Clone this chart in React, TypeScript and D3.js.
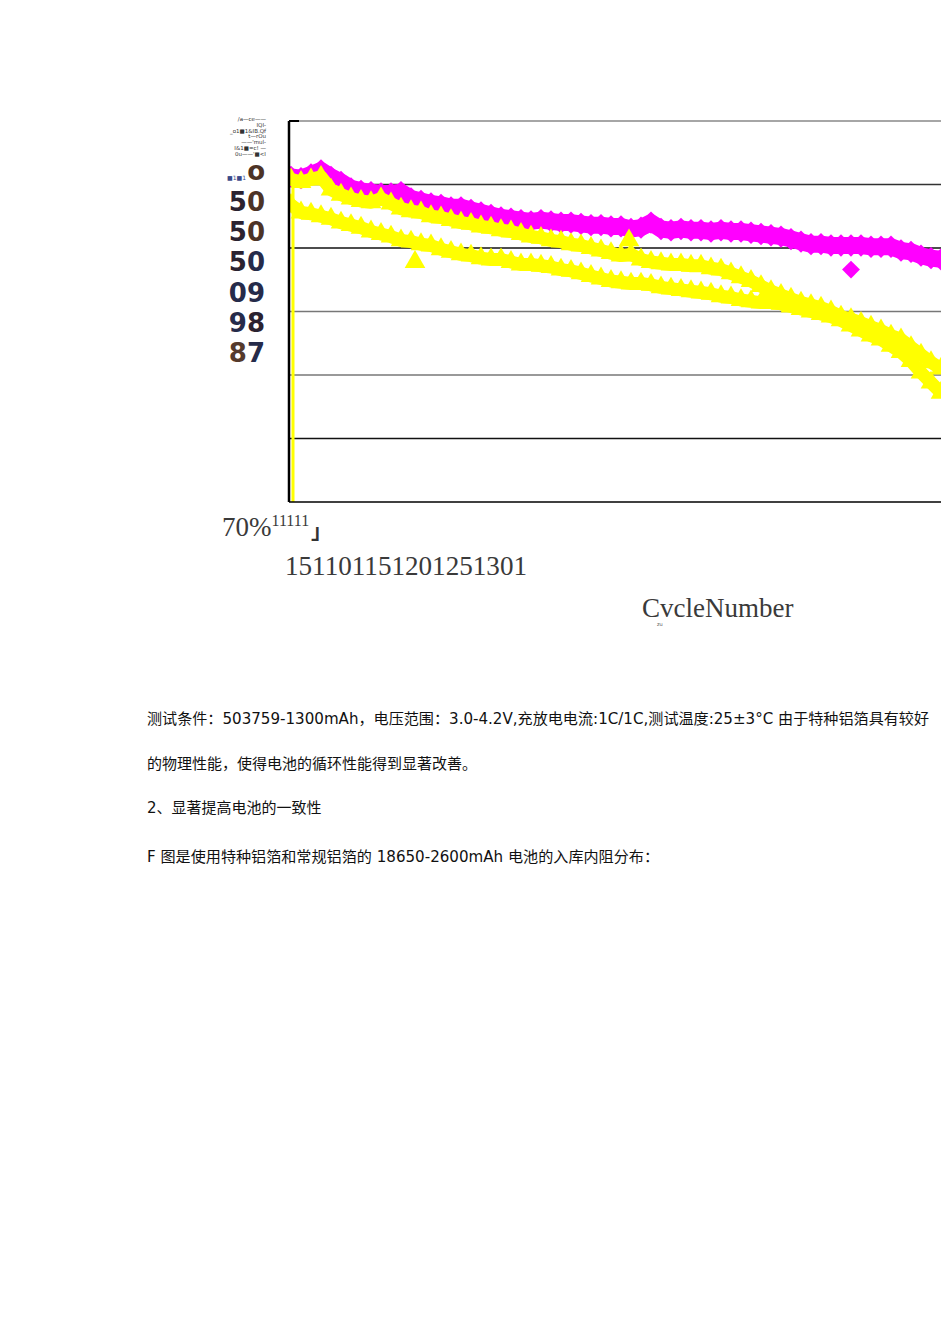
import React, { useEffect, useRef } from 'react'
import * as d3 from 'd3'

// --- DATA ---
const cycles = [
  1, 6, 11, 16, 21, 26, 31, 36, 41, 46, 51, 56, 61, 66, 71, 76, 81, 86, 91, 96,
  101, 106, 111, 116, 121, 126, 131, 136, 141, 146, 151, 156, 161, 166, 171, 176, 181, 186, 191, 196,
  201, 206, 211, 216, 221, 226, 231, 236, 241, 246, 251, 256, 261, 266, 271, 276, 281, 286, 291, 296,
  301, 306, 311, 316, 321, 326,
]

// capacity retention (%), special aluminium foil (magenta diamonds)
const specialFoil = [
  95.6, 95.5, 95.8, 96.1, 95.6, 95.2, 94.7, 94.5, 94.4, 94.3,
  94.3, 94.4, 93.9, 93.7, 93.5, 93.4, 93.2, 93.2, 93.0, 92.8,
  92.6, 92.4, 92.3, 92.2, 92.1, 92.2, 92.1, 92.0, 92.0, 91.9,
  91.8, 91.8, 91.7, 91.7, 91.5, 91.6, 92.0, 91.5, 91.4, 91.5,
  91.4, 91.4, 91.3, 91.4, 91.3, 91.3, 91.2, 91.1, 91.0, 90.9,
  90.7, 90.5, 90.3, 90.3, 90.2, 90.2, 90.2, 90.2, 90.1, 90.1,
  90.1, 89.8, 89.7, 89.4, 89.2, 89.1,
]

// conventional foil, cell A (yellow triangles, upper band)
const normalFoilA = [
  95.4, 95.2, 95.4, 95.6, 94.6, 94.2, 93.9, 93.7, 93.6, 93.9,
  93.5, 93.1, 92.9, 92.8, 92.5, 92.4, 92.2, 92.0, 91.9, 91.7,
  91.6, 91.4, 91.3, 91.1, 90.9, 90.8, 90.6, 90.5, 90.3, 90.2,
  90.0, 89.8, 89.6, 89.4, 89.5, 89.1, 88.9, 88.8, 88.7, 88.7,
  88.6, 88.6, 88.4, 88.3, 88.0, 87.7, 87.4, 87.0, 86.6, 86.3,
  86.0, 85.7, 85.5, 85.3, 85.0, 84.6, 84.4, 84.1, 83.8, 83.5,
  83.1, 82.8, 82.2, 81.6, 81.0, 80.5,
]

// conventional foil, cell B (yellow triangles, lower band)
const normalFoilB = [
  93.4, 92.8, 92.7, 92.5, 92.3, 92.0, 91.8, 91.6, 91.3, 91.1,
  90.9, 90.6, 90.5, 90.3, 90.2, 89.9, 89.7, 89.5, 89.4, 89.2,
  89.1, 89.1, 88.9, 88.7, 88.7, 88.6, 88.5, 88.3, 88.2, 88.0,
  87.8, 87.6, 87.4, 87.3, 87.2, 87.2, 87.1, 86.9, 86.8, 86.7,
  86.6, 86.5, 86.4, 86.2, 86.1, 85.9, 85.8, 85.7, 85.7, 85.6,
  85.4, 85.2, 85.0, 84.8, 84.6, 84.3, 83.9, 83.5, 83.1, 82.8,
  82.3, 81.8, 81.1, 80.2, 79.4, 78.6,
]

const specialOutliers = [{ cycle: 281, value: 88.3 }]
const normalOutliers = [{ cycle: 63, value: 88.9 }, { cycle: 170, value: 90.6 }]
const startDrop = [{ cycle: 2, from: 95.0, to: 70 }]

const yGrid = [75, 80, 85, 90, 95]
const yLabelRows = [['5', '0'], ['5', '0'], ['5', '0'], ['0', '9'], ['9', '8'], ['8', '7']]
const garbledLegend = ['/a—ce——', 'IQI-', '_o1■1&IB.Qf', 't—rOu', '——\'mul-', 'I&1■=c! —', '0u——\'■<I']
const bottomLabel = '70%'
const bottomSup = '11111'
const xTickText = '151101151201251301'
const xTitle = 'CvcleNumber'

const paragraphs = [
  '测试条件：503759-1300mAh，电压范围：3.0-4.2V,充放电电流:1C/1C,测试温度:25±3°C 由于特种铝箔具有较好',
  '的物理性能，使得电池的循环性能得到显著改善。',
  '2、显著提高电池的一致性',
  'F 图是使用特种铝箔和常规铝箔的 18650-2600mAh 电池的入库内阻分布：',
]

// split a line into runs of CJK / latin so each gets its own font
const splitRuns = (s: string) => {
  const runs: { cjk: boolean; text: string }[] = []
  for (const ch of s) {
    const cjk = /[\u3000-\u303f\u4e00-\u9fff\uff00-\uffef]/.test(ch)
    const last = runs[runs.length - 1]
    if (last && last.cjk === cjk) last.text += ch
    else runs.push({ cjk, text: ch })
  }
  return runs
}

export default function App() {
  const ref = useRef<SVGSVGElement>(null)

  useEffect(() => {
    if (!ref.current) return
    const svg = d3.select(ref.current)
    svg.selectAll('*').remove()

    const left = 289, right = 941, top = 121, bottom = 502
    const x = d3.scaleLinear().domain([0, 326]).range([left, right])
    const y = d3.scaleLinear().domain([70, 100]).range([bottom, top])

    // --- grid & frame ---
    const gridColor: Record<number, string> = { 95: '#333', 90: '#111', 85: '#777', 80: '#777', 75: '#111' }
    svg.append('g')
      .selectAll('line')
      .data(yGrid)
      .enter()
      .append('line')
      .attr('x1', left)
      .attr('x2', right)
      .attr('y1', (d: number) => y(d))
      .attr('y2', (d: number) => y(d))
      .attr('stroke', (d: number) => gridColor[d])
      .attr('stroke-width', 1.5)

    svg.append('line')
      .attr('x1', left).attr('x2', right)
      .attr('y1', y(100)).attr('y2', y(100))
      .attr('stroke', '#888').attr('stroke-width', 1.5)
    svg.append('line')
      .attr('x1', left).attr('x2', left + 10)
      .attr('y1', y(100)).attr('y2', y(100))
      .attr('stroke', '#000').attr('stroke-width', 2)

    // --- series ---
    svg.append('defs').append('clipPath').attr('id', 'plot-clip')
      .append('rect')
      .attr('x', left).attr('y', top)
      .attr('width', right - left).attr('height', bottom - top)

    const plot = svg.append('g').attr('clip-path', 'url(#plot-clip)')

    const line = d3.line<number>()
      .x((_d: number, i: number) => x(cycles[i]))
      .y((d: number) => y(d))

    const diamond = d3.symbol(d3.symbolSquare, 250)
    const triangle = d3.symbol(d3.symbolTriangle, 185)

    const drawSeries = (values: number[], color: string, width: number, shape: 'diamond' | 'triangle') => {
      plot.append('path')
        .datum(values)
        .attr('d', line)
        .attr('fill', 'none')
        .attr('stroke', color)
        .attr('stroke-width', width)
        .attr('stroke-linejoin', 'round')
      plot.append('g')
        .selectAll('path')
        .data(values)
        .enter()
        .append('path')
        .attr('d', shape === 'diamond' ? diamond() : triangle())
        .attr('transform', (d: number, i: number) =>
          `translate(${x(cycles[i])},${y(d)})` + (shape === 'diamond' ? ' rotate(45)' : ''))
        .attr('fill', color)
    }

    drawSeries(specialFoil, '#ff00ff', 17, 'diamond')
    plot.append('g')
      .selectAll('path')
      .data(specialOutliers)
      .enter()
      .append('path')
      .attr('d', d3.symbol(d3.symbolSquare, 160)())
      .attr('transform', (d: any) => `translate(${x(d.cycle)},${y(d.value)}) rotate(45)`)
      .attr('fill', '#ff00ff')

    drawSeries(normalFoilB, '#ffff00', 13, 'triangle')
    drawSeries(normalFoilA, '#ffff00', 13, 'triangle')
    plot.append('g')
      .selectAll('path')
      .data(normalOutliers)
      .enter()
      .append('path')
      .attr('d', triangle())
      .attr('transform', (d: any) => `translate(${x(d.cycle)},${y(d.value)})`)
      .attr('fill', '#ffff00')

    plot.append('g')
      .selectAll('line')
      .data(startDrop)
      .enter()
      .append('line')
      .attr('x1', (d: any) => x(d.cycle)).attr('x2', (d: any) => x(d.cycle))
      .attr('y1', (d: any) => y(d.from)).attr('y2', (d: any) => y(d.to))
      .attr('stroke', '#ffff00').attr('stroke-width', 3)

    // --- axes lines ---
    svg.append('line')
      .attr('x1', left).attr('x2', left)
      .attr('y1', top).attr('y2', bottom)
      .attr('stroke', '#000').attr('stroke-width', 2.5)
    svg.append('line')
      .attr('x1', left).attr('x2', right)
      .attr('y1', bottom).attr('y2', bottom)
      .attr('stroke', '#000').attr('stroke-width', 1.5)

    // --- garbled y-axis labels ---
    const legend = svg.append('text')
      .attr('font-family', 'DejaVu Sans')
      .attr('font-size', 5.5)
      .attr('fill', '#333')
      .attr('text-anchor', 'end')
    garbledLegend.forEach((t, i) => {
      legend.append('tspan').attr('x', 266).attr('y', 121 + i * 5.8).text(t)
    })

    svg.append('text')
      .attr('x', 246).attr('y', 180)
      .attr('text-anchor', 'end')
      .attr('font-family', 'DejaVu Sans')
      .attr('font-size', 6)
      .attr('fill', '#3a4a8a')
      .text('■1■1')
    svg.append('text')
      .attr('x', 265).attr('y', 180)
      .attr('text-anchor', 'end')
      .attr('font-family', 'DejaVu Sans')
      .attr('font-weight', 'bold')
      .attr('font-size', 26)
      .attr('fill', '#4d3326')
      .text('o')

    const rowColors = [
      ['#2b2230', '#4d3326'], ['#2b2230', '#4d3326'], ['#2b2230', '#262b4a'],
      ['#262b4a', '#262b4a'], ['#262b4a', '#2b2230'], ['#553a2c', '#262b4a'],
    ]
    yLabelRows.forEach((row, i) => {
      const t = svg.append('text')
        .attr('x', 265).attr('y', 211 + i * 30.2)
        .attr('text-anchor', 'end')
        .attr('font-family', 'DejaVu Sans')
        .attr('font-weight', 'bold')
        .attr('font-size', 26)
      row.forEach((ch, j) => {
        t.append('tspan').attr('fill', rowColors[i][j]).text(ch)
      })
    })

    // --- bottom labels ---
    const serif = 'Liberation Serif, DejaVu Serif, serif'
    const lbl = svg.append('text')
      .attr('x', 222).attr('y', 536)
      .attr('font-family', serif)
      .attr('font-size', 27)
      .attr('fill', '#3a3a3a')
    lbl.append('tspan').text(bottomLabel)
    lbl.append('tspan').attr('dy', -10).attr('font-size', 16).text(bottomSup)
    svg.append('text')
      .attr('x', 311).attr('y', 538)
      .attr('font-family', 'Noto Sans CJK SC')
      .attr('font-size', 21)
      .attr('font-weight', 'bold')
      .attr('fill', '#333')
      .text('」')

    svg.append('text')
      .attr('x', 285).attr('y', 575)
      .attr('font-family', serif)
      .attr('font-size', 27)
      .attr('fill', '#3a3a3a')
      .attr('textLength', 242)
      .attr('lengthAdjust', 'spacingAndGlyphs')
      .text(xTickText)

    svg.append('text')
      .attr('x', 642).attr('y', 617)
      .attr('font-family', serif)
      .attr('font-size', 27)
      .attr('fill', '#3a3a3a')
      .text(xTitle)
    svg.append('text')
      .attr('x', 657).attr('y', 626)
      .attr('font-family', 'DejaVu Sans')
      .attr('font-size', 5)
      .attr('fill', '#555')
      .text('zu')

    // --- paragraph text ---
    const lines = [
      { y: 724, len: 782 },
      { y: 769, len: 0 },
      { y: 813, len: 0 },
      { y: 862, len: 512 },
    ]
    paragraphs.forEach((p, i) => {
      const t = svg.append('text')
        .attr('x', 147).attr('y', lines[i].y)
        .attr('font-size', 15)
        .attr('fill', '#111')
      splitRuns(p).forEach((r) => {
        t.append('tspan')
          .attr('font-family', r.cjk ? 'Noto Sans CJK SC' : 'DejaVu Sans')
          .text(r.text)
      })
      if (lines[i].len) {
        t.attr('textLength', lines[i].len).attr('lengthAdjust', 'spacingAndGlyphs')
      }
    })
  }, [])

  return (
    <svg
      ref={ref}
      width={950}
      height={1318}
      style={{ position: 'absolute', left: 0, top: 0, background: '#fff' }}
    />
  )
}
